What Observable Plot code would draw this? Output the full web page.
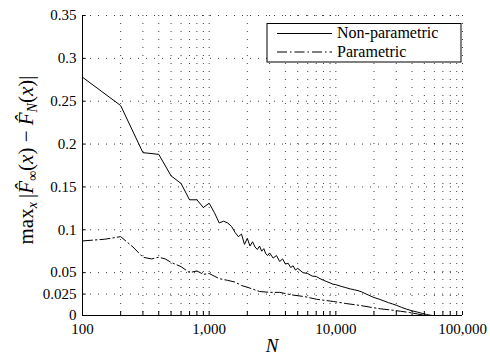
<!DOCTYPE html>
<html><head><meta charset="utf-8">
<script src="https://cdn.jsdelivr.net/npm/d3@7"></script>
<script src="https://cdn.jsdelivr.net/npm/@observablehq/plot@0.6"></script>
<style>body{margin:0;background:#fff}#chart{width:490px;height:356px}</style>
</head><body><div id="chart"></div>
<script>
// Non-parametric series
const npN = [100,200,300,400,500,600,700,800,900,1000,1100,1200,1300,1400,1500,1600,1700,1800,1900,2000,2100,2200,2300,2400,2500,2600,2700,2800,2900,3000,3200,3400,3600,3800,4000,4200,4400,4600,4800,5000,5500,6000,6500,7000,7500,8000,8500,9000,9500,10000,11000,12000,13000,14000,15000,16000,18000,20000,22000,24000,26000,28000,30000,33000,36000,40000,44000,48000,52000,56000,58000];
const npVal = [0.278,0.245,0.19,0.188,0.163,0.154,0.135,0.135,0.126,0.131,0.12,0.108,0.110,0.108,0.104,0.097,0.092,0.095,0.083,0.090,0.081,0.086,0.080,0.077,0.081,0.075,0.078,0.072,0.070,0.073,0.067,0.070,0.063,0.066,0.060,0.061,0.056,0.058,0.053,0.055,0.050,0.049,0.046,0.0455,0.043,0.041,0.0395,0.038,0.0365,0.036,0.034,0.0325,0.031,0.030,0.029,0.0275,0.024,0.021,0.019,0.017,0.015,0.0135,0.012,0.0095,0.0075,0.0055,0.004,0.0025,0.0012,0.0003,0];
// Parametric series
const pN = [100,150,200,250,300,350,400,450,500,600,700,800,900,1000,1200,1400,1600,1800,2000,2500,3000,3600,4500,5700,7000,9600,12000,15600,19000,22500,27000,32300,38000,44000,49000,52000];
const pVal = [0.087,0.089,0.092,0.08,0.068,0.066,0.068,0.066,0.062,0.057,0.050,0.052,0.048,0.049,0.043,0.041,0.039,0.035,0.033,0.028,0.027,0.027,0.024,0.022,0.019,0.0163,0.014,0.0117,0.0095,0.0078,0.0065,0.005,0.0035,0.0018,0.0005,0];
const seriesNames = ["Non-parametric", "Parametric"];
const yTicks = [0,0.025,0.05,0.1,0.15,0.2,0.25,0.3,0.35];
const xTicks = [100,1000,10000,100000];
const xGrid = [100,200,300,400,500,600,700,800,900,1000,2000,3000,4000,5000,6000,7000,8000,9000,10000,20000,30000,40000,50000,60000,70000,80000,90000,100000];

const npData = npN.map((n,i)=>({N:n, v:npVal[i]}));
const pData = pN.map((n,i)=>({N:n, v:pVal[i]}));
const serif = "Liberation Serif, Times New Roman, serif";
const dashDot = "10,3,1.5,3";
const grid = {stroke:"#000", strokeDasharray:"1,7", strokeOpacity:0.75};

const chart = Plot.plot({
  width: 490, height: 356,
  marginLeft: 82, marginRight: 28, marginTop: 15, marginBottom: 41,
  style: {fontFamily: serif, fontSize: "15px", background: "white", color: "black"},
  x: {type: "log", domain: [100, 100000]},
  y: {domain: [0, 0.35]},
  marks: [
    Plot.ruleY(yTicks, grid),
    Plot.ruleX(xGrid, grid),
    Plot.ruleX(xGrid, {y1: 0, y2: 0.0045, stroke:"#000"}),
    Plot.ruleY(yTicks, {x1: 100, x2: 107, stroke:"#000"}),
    Plot.axisY({ticks: yTicks, tickSize: 0, tickPadding: 6, tickFormat: d => String(d), fontSize: 15, fontFamily: serif, label: null}),
    Plot.axisX({ticks: xTicks, tickSize: 0, tickPadding: 8, tickFormat: d3.format(","), fontSize: 15, fontFamily: serif, label: null}),
    Plot.line(npData, {x: "N", y: "v", stroke: "#000", strokeWidth: 1}),
    Plot.line(pData, {x: "N", y: "v", stroke: "#000", strokeWidth: 1, strokeDasharray: dashDot}),
    Plot.ruleX([100], {stroke:"#000"}),
    Plot.ruleY([0], {stroke:"#000"})
  ]
});
document.getElementById("chart").appendChild(chart);

const svg = d3.select(chart);
// Y label
const yl = svg.append("text").attr("transform","translate(33,160) rotate(-90)")
  .attr("text-anchor","middle").attr("font-family",serif).style("font-family",serif).style("font-size","21px").attr("fill","#000");
const parts = [
  ["max",0,false,21],["x",4,true,14],["\u2009|",-4,false,21],["F\u0302",0,true,21],["\u221E",4,false,14],
  ["(",-4,false,21],["x",0,true,21],[") \u2212 ",0,false,21],["F\u0302",0,true,21],["N",4,true,14],
  ["(",-4,false,21],["x",0,true,21],[")|",0,false,21]
];
parts.forEach(([t,dy,it,fs])=>{
  yl.append("tspan").attr("dy",dy).style("font-style",it?"italic":"normal").style("font-size",fs+"px").text(t);
});
// X label
svg.append("text").attr("x",272).attr("y",352).attr("text-anchor","middle")
  .attr("font-family",serif).style("font-family",serif).style("font-size","19px").style("font-style","italic").attr("fill","#000").text("N");
// Legend
const lg = svg.append("g").attr("text-anchor","start");
lg.append("rect").attr("x",267).attr("y",23.5).attr("width",194).attr("height",38.5).attr("fill","#fff").attr("stroke","#000");
lg.append("line").attr("x1",277).attr("x2",332).attr("y1",33.5).attr("y2",33.5).attr("stroke","#000");
lg.append("line").attr("x1",277).attr("x2",332).attr("y1",52).attr("y2",52).attr("stroke","#000").attr("stroke-dasharray",dashDot);
lg.append("text").attr("x",337).attr("y",38).attr("text-anchor","start").attr("font-family",serif).style("font-family",serif).style("font-size","16px").attr("fill","#000").text(seriesNames[0]);
lg.append("text").attr("x",337).attr("y",57).attr("text-anchor","start").attr("font-family",serif).style("font-family",serif).style("font-size","16px").attr("fill","#000").text(seriesNames[1]);
</script></body></html>
